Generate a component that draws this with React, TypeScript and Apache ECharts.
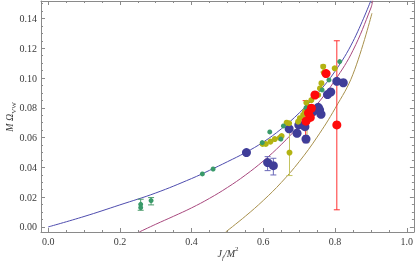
import React, { useEffect, useRef } from "react";
import * as echarts from "echarts";

// Axis ticks
const xMajorTicks = [0, 0.2, 0.4, 0.6, 0.8, 1.0];
const xMinorTicks = [0.05, 0.1, 0.15, 0.25, 0.3, 0.35, 0.45, 0.5, 0.55, 0.65, 0.7, 0.75, 0.85, 0.9, 0.95];
const yMajorTicks = [0, 0.02, 0.04, 0.06, 0.08, 0.1, 0.12, 0.14];
const yMinorTicks = [0.005, 0.01, 0.015, 0.025, 0.03, 0.035, 0.045, 0.05, 0.055, 0.065, 0.07, 0.075, 0.085, 0.09, 0.095, 0.105, 0.11, 0.115, 0.125, 0.13, 0.135, 0.145, 0.15];

// Theory curves
const blueCurveX = [0, 0.1, 0.2, 0.3, 0.4, 0.45, 0.5, 0.55, 0.6, 0.65, 0.7, 0.75, 0.8, 0.85, 0.9];
const blueCurveY = [0, 0.007, 0.0148, 0.0228, 0.0325, 0.038, 0.0438, 0.0499, 0.057, 0.0658, 0.0765, 0.0893, 0.1045, 0.1245, 0.152];
const magentaCurveX = [0.254, 0.3, 0.35, 0.4, 0.45, 0.5, 0.55, 0.6, 0.65, 0.7, 0.75, 0.8, 0.85, 0.9, 0.905];
const magentaCurveY = [-0.0034, 0.0018, 0.0072, 0.0128, 0.0192, 0.0265, 0.0348, 0.0443, 0.0553, 0.068, 0.0823, 0.0985, 0.1185, 0.147, 0.152];
const oliveCurveX = [0.495, 0.55, 0.6, 0.65, 0.7, 0.75, 0.8, 0.85, 0.903];
const oliveCurveY = [-0.0034, 0.0072, 0.0178, 0.0298, 0.0438, 0.0603, 0.0795, 0.1025, 0.1435];

// Data points
const greenX = [0.258, 0.258, 0.287, 0.43, 0.46, 0.597, 0.618, 0.649, 0.656, 0.719, 0.764, 0.783, 0.813];
const greenY = [0.0152, 0.013, 0.0177, 0.0356, 0.0389, 0.0566, 0.0638, 0.059, 0.0678, 0.08, 0.092, 0.0987, 0.111];
const greenErrX = [0.258, 0.287];
const greenErrLo = [0.0112, 0.0148];
const greenErrHi = [0.0186, 0.0197];

const blueX = [0.553, 0.612, 0.628, 0.672, 0.694, 0.699, 0.716, 0.719, 0.739, 0.753, 0.757, 0.761, 0.779, 0.788, 0.805, 0.823];
const blueY = [0.0499, 0.0432, 0.0411, 0.0659, 0.0629, 0.0685, 0.0673, 0.059, 0.0774, 0.0803, 0.0785, 0.0756, 0.0889, 0.0906, 0.0978, 0.0968];
const blueErrX = [0.612, 0.628, 0.719, 0.757];
const blueErrLo = [0.0378, 0.0349, 0.0565, 0.0745];
const blueErrHi = [0.0472, 0.0461, 0.0612, 0.081];

const yellowX = [0.598, 0.607, 0.62, 0.632, 0.646, 0.651, 0.665, 0.672, 0.673, 0.697, 0.702, 0.711, 0.716, 0.725, 0.72, 0.734, 0.744, 0.753, 0.758, 0.762, 0.769, 0.767, 0.799];
const yellowY = [0.0557, 0.0557, 0.0573, 0.059, 0.0598, 0.061, 0.07, 0.0696, 0.0499, 0.0707, 0.073, 0.0752, 0.0774, 0.0807, 0.0834, 0.0852, 0.0884, 0.0886, 0.093, 0.0965, 0.1036, 0.1076, 0.1065];
const yellowErrX = [0.673, 0.722, 0.767];
const yellowErrLo = [0.0345, 0.057, 0.104];
const yellowErrHi = [0.066, 0.08, 0.1087];

const redX = [0.805, 0.775, 0.744, 0.734, 0.726, 0.731, 0.719];
const redY = [0.0685, 0.103, 0.0886, 0.0797, 0.0765, 0.0735, 0.071];
const redErrX = [0.805, 0.718];
const redErrLo = [0.0115, 0.057];
const redErrHi = [0.125, 0.0848];

const X_MIN = -0.02;
const X_MAX = 1.02;
const Y_MIN = -0.0034;
const Y_MAX = 0.1517;

const FRAME = "#8a8a8a";
const TEXT = "#3a3a3a";
const FONT = "Liberation Serif";

const zip = (xs: number[], ys: number[]) => xs.map((x, i) => [x, ys[i]]);
const zipErr = (xs: number[], lo: number[], hi: number[]) => xs.map((x, i) => [x, lo[i], hi[i]]);

function errSeries(data: number[][], color: string) {
  return {
    type: "custom",
    data,
    encode: { x: 0, y: [1, 2] },
    z: 2,
    renderItem: (params: any, api: any) => {
      const x = api.value(0);
      const p1 = api.coord([x, api.value(1)]);
      const p2 = api.coord([x, api.value(2)]);
      const w = 3;
      const st = { stroke: color, lineWidth: 1 };
      return {
        type: "group",
        children: [
          { type: "line", shape: { x1: p1[0], y1: p1[1], x2: p2[0], y2: p2[1] }, style: st },
          { type: "line", shape: { x1: p1[0] - w, y1: p1[1], x2: p1[0] + w, y2: p1[1] }, style: st },
          { type: "line", shape: { x1: p2[0] - w, y1: p2[1], x2: p2[0] + w, y2: p2[1] }, style: st },
        ],
      };
    },
  };
}

function xAxisDef(pos: string, ticks: number[], len: number, labels: boolean, line: boolean) {
  return {
    type: "value",
    min: X_MIN,
    max: X_MAX,
    position: pos,
    axisLine: { show: line, onZero: false, lineStyle: { color: FRAME, width: 1 } },
    axisTick: { show: true, inside: true, length: len, customValues: ticks, lineStyle: { color: FRAME, width: 1 } },
    axisLabel: {
      show: labels,
      customValues: ticks,
      formatter: (v: number) => v.toFixed(1),
      color: TEXT,
      fontFamily: FONT,
      fontSize: 10,
      margin: 4,
    },
    splitLine: { show: false },
  };
}

function yAxisDef(pos: string, ticks: number[], len: number, labels: boolean, line: boolean) {
  return {
    type: "value",
    min: Y_MIN,
    max: Y_MAX,
    position: pos,
    axisLine: { show: line, onZero: false, lineStyle: { color: FRAME, width: 1 } },
    axisTick: { show: true, inside: true, length: len, customValues: ticks, lineStyle: { color: FRAME, width: 1 } },
    axisLabel: {
      show: labels,
      customValues: ticks,
      formatter: (v: number) => v.toFixed(2),
      color: TEXT,
      fontFamily: FONT,
      fontSize: 10,
      margin: 4,
    },
    splitLine: { show: false },
  };
}

export default function App() {
  const ref = useRef<HTMLDivElement>(null);
  useEffect(() => {
    if (!ref.current) return;
    const chart = echarts.init(ref.current, null, { renderer: "svg" });
    const lineSeries = (xs: number[], ys: number[], color: string) => ({
      type: "line",
      data: zip(xs, ys),
      smooth: 0.4,
      showSymbol: false,
      symbol: "none",
      lineStyle: { color, width: 1 },
      z: 1,
      silent: true,
    });
    const scatter = (xs: number[], ys: number[], color: string, size: number, z: number) => ({
      type: "scatter",
      data: zip(xs, ys),
      symbolSize: size,
      itemStyle: { color, opacity: 1 },
      z,
    });
    chart.setOption({
      animation: false,
      grid: { left: 41, right: 2, top: 1, bottom: 36 },
      xAxis: [
        xAxisDef("bottom", xMajorTicks, 4, true, true),
        xAxisDef("bottom", xMinorTicks, 2, false, false),
        xAxisDef("top", xMajorTicks, 4, false, true),
        xAxisDef("top", xMinorTicks, 2, false, false),
      ],
      yAxis: [
        yAxisDef("left", yMajorTicks, 4, true, true),
        yAxisDef("left", yMinorTicks, 2, false, false),
        yAxisDef("right", yMajorTicks, 4, false, true),
        yAxisDef("right", yMinorTicks, 2, false, false),
      ],
      series: [
        lineSeries(blueCurveX, blueCurveY, "#4e4cae"),
        lineSeries(magentaCurveX, magentaCurveY, "#a8487e"),
        lineSeries(oliveCurveX, oliveCurveY, "#a8904c"),
        errSeries(zipErr(blueErrX, blueErrLo, blueErrHi), "#6a68b8"),
        errSeries(zipErr(yellowErrX, yellowErrLo, yellowErrHi), "#c4c460"),
        errSeries(zipErr(greenErrX, greenErrLo, greenErrHi), "#4a9a6a"),
        errSeries(zipErr(redErrX, redErrLo, redErrHi), "#ff3030"),
        scatter(blueX, blueY, "#3f3d99", 9, 3),
        scatter(yellowX, yellowY, "#b3b312", 6, 4),
        scatter(greenX, greenY, "#3a9a6a", 5, 5),
        scatter(redX, redY, "#ff0a0a", 9, 6),
      ],
      graphic: [
        {
          type: "text",
          x: 9,
          y: 117,
          rotation: Math.PI / 2,
          style: {
            text: "{m|M Ω}{s|VW}",
            align: "center",
            verticalAlign: "middle",
            fill: TEXT,
            rich: {
              m: { fontFamily: FONT, fontStyle: "italic", fontSize: 10, lineHeight: 16, verticalAlign: "middle", fill: TEXT },
              s: { fontFamily: FONT, fontSize: 7, lineHeight: 16, verticalAlign: "bottom", fill: TEXT },
            },
          },
        },
        {
          type: "text",
          x: 228,
          y: 253,
          style: {
            text: "{m|J}{s|f}{m|/M}{p|2}",
            align: "center",
            verticalAlign: "middle",
            fill: TEXT,
            rich: {
              m: { fontFamily: FONT, fontStyle: "italic", fontSize: 10, lineHeight: 16, verticalAlign: "middle", fill: TEXT },
              s: { fontFamily: FONT, fontStyle: "italic", fontSize: 7, lineHeight: 16, verticalAlign: "bottom", fill: TEXT },
              p: { fontFamily: FONT, fontSize: 7, lineHeight: 16, verticalAlign: "top", fill: TEXT },
            },
          },
        },
      ],
    });
    return () => chart.dispose();
  }, []);
  return <div ref={ref} style={{ width: 416, height: 268, position: "fixed", left: 0, top: 0 }} />;
}
